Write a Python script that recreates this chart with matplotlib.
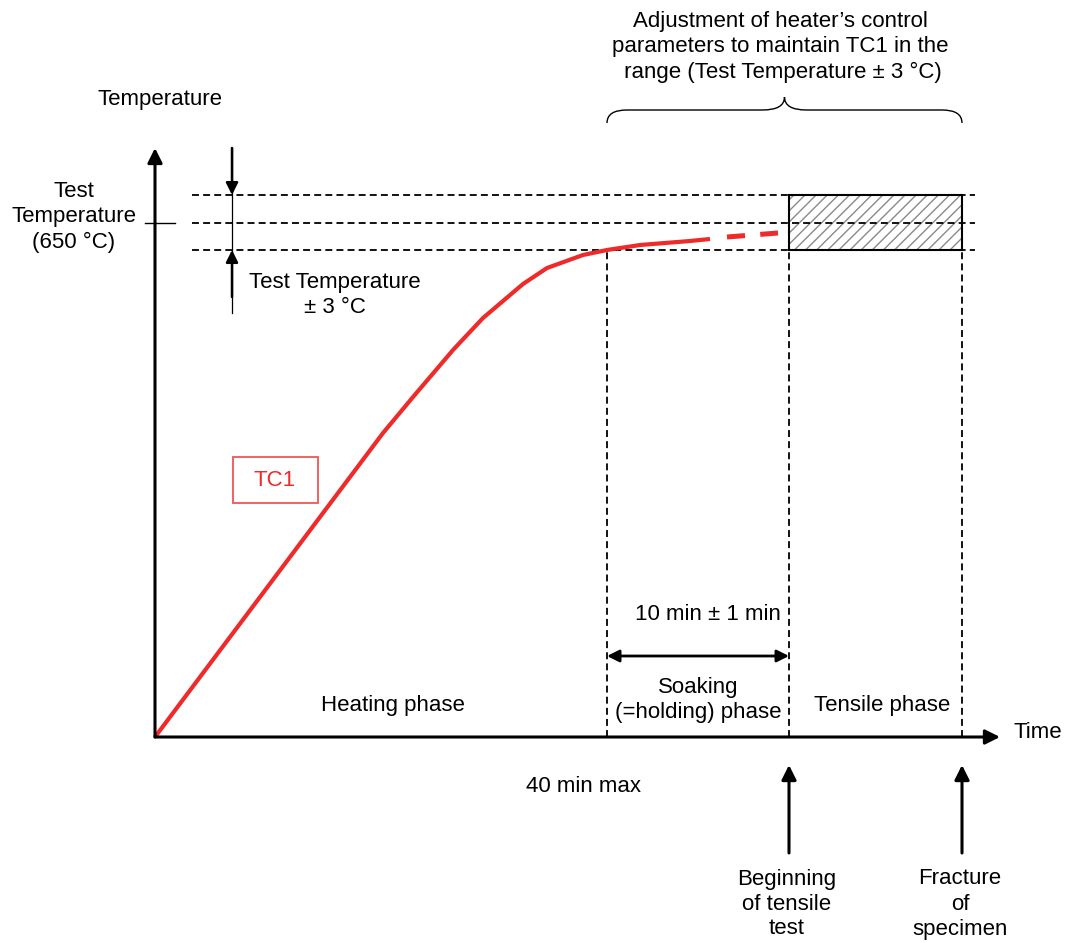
import matplotlib
matplotlib.use("Agg")
import matplotlib.pyplot as plt
from matplotlib.patches import Rectangle, PathPatch
from matplotlib.path import Path

plt.rcParams['font.family'] = ['Liberation Sans', 'DejaVu Sans']
plt.rcParams['lines.scale_dashes'] = False
plt.rcParams['hatch.linewidth'] = 1.0

# schematic units: origin at the axes crossing, y up
# TC1 heating curve (solid part) and its dashed continuation
curve_t = [0, 228, 258, 298, 328, 368, 392, 428, 452, 485, 535, 555]
curve_T = [0, 304, 340, 387, 419, 453, 469, 482, 487, 492, 496, 498]
cont_t = [572, 623]
cont_T = [500, 504]

# test temperature band: lower limit, set point, upper limit
band = [487, 514, 542]
# phase boundaries: start, end of heating, beginning of tensile test, fracture
phases = [0, 452, 634, 807]
axis_end_t = 845
axis_end_T = 589

fig = plt.figure(figsize=(10.68, 9.43), dpi=100)
ax = fig.add_axes([0, 0, 1, 1])
ax.set_xlim(-155, 913)
ax.set_ylim(-206, 737)
ax.axis('off')

fs = 16
arrow = dict(arrowstyle='-|>', lw=2.2, color='black', mutation_scale=22,
             shrinkA=0, shrinkB=0)

# axes
ax.annotate('', xy=(0, axis_end_T), xytext=(0, 0), arrowprops=arrow)
ax.annotate('', xy=(axis_end_t, 0), xytext=(0, 0), arrowprops=arrow)
ax.text(5, 637, 'Temperature', fontsize=fs, ha='center', va='center')
ax.text(858, 4, 'Time', fontsize=fs, ha='left', va='center')

# test temperature band
for lv in band:
    ax.plot([37, 820], [lv, lv], color='black', lw=1.3, ls=(0, (5, 3)))
ax.plot([-10, 20], [band[1], band[1]], color='black', lw=1.0)
ax.text(-81, 520, 'Test\nTemperature\n(650 °C)', fontsize=fs, ha='center',
        va='center', linespacing=1.25)

# +-3 arrows
ax.plot([77, 77], [424, 589], color='black', lw=0.9)
ax.annotate('', xy=(77, band[2]), xytext=(77, 589),
            arrowprops=dict(arrow, lw=1.8, mutation_scale=18))
ax.annotate('', xy=(77, band[0]), xytext=(77, 440),
            arrowprops=dict(arrow, lw=1.8, mutation_scale=18))
ax.text(180, 442, 'Test Temperature\n± 3 °C', fontsize=fs, ha='center',
        va='center', linespacing=1.25)

# phase boundaries
for p in phases[1:]:
    ax.plot([p, p], [0, band[0]], color='black', lw=1.3, ls=(0, (5, 3)))

# hatched tensile window
ax.add_patch(Rectangle((phases[2], band[0]), phases[3] - phases[2],
                       band[2] - band[0], fill=False, hatch='///',
                       edgecolor='#8a8a8a', lw=0))
ax.add_patch(Rectangle((phases[2], band[0]), phases[3] - phases[2],
                       band[2] - band[0], fill=False, edgecolor='black', lw=1.5))

# TC1 curve
red = '#ee2a2a'
ax.plot(curve_t, curve_T, color=red, lw=3.0, solid_capstyle='butt')
ax.plot(cont_t, cont_T, color=red, lw=3.6, ls=(0, (13, 11)))
ax.add_patch(Rectangle((78, 234), 85, 46, fill=False, edgecolor='#f05555', lw=1.3))
ax.text(120, 257, 'TC1', fontsize=fs, color=red, ha='center', va='center')

# brace over soaking + tensile phase
x0, x1 = phases[1], phases[3]
xm = (x0 + x1) / 2
yb, yf, yt = 614, 627, 640
verts = [(x0, yb), (x0, yf), (x0 + 20, yf),
         (xm - 22, yf),
         (xm, yf), (xm, yt),
         (xm, yf), (xm + 22, yf),
         (x1 - 20, yf),
         (x1, yf), (x1, yb)]
codes = [Path.MOVETO, Path.CURVE3, Path.CURVE3,
         Path.LINETO,
         Path.CURVE3, Path.CURVE3,
         Path.CURVE3, Path.CURVE3,
         Path.LINETO,
         Path.CURVE3, Path.CURVE3]
ax.add_patch(PathPatch(Path(verts, codes), fill=False, lw=1.0, color='black'))
ax.text(625, 690, "Adjustment of heater’s control\nparameters to maintain TC1 in the\n"
        " range (Test Temperature ± 3 °C)", fontsize=fs, ha='center', va='center',
        linespacing=1.25)

# soaking duration
ax.annotate('', xy=(phases[1], 81), xytext=(phases[2], 81),
            arrowprops=dict(arrowstyle='<|-|>', lw=2.0, color='black',
                            mutation_scale=18, shrinkA=0, shrinkB=0))
ax.text(553, 122, '10 min ± 1 min', fontsize=fs, ha='center', va='center')

# phase labels
ax.text(238, 31, 'Heating phase', fontsize=fs, ha='center', va='center')
ax.text(543, 37, 'Soaking\n(=holding) phase', fontsize=fs, ha='center',
        va='center', linespacing=1.25)
ax.text(727, 31, 'Tensile phase', fontsize=fs, ha='center', va='center')
ax.text(429, -50, '40 min max', fontsize=fs, ha='center', va='center')

# events
for p, lab in [(phases[2], 'Beginning\nof tensile\ntest'),
               (phases[3], 'Fracture\nof\nspecimen')]:
    ax.annotate('', xy=(p, -28), xytext=(p, -116), arrowprops=arrow)
    ax.text(p - 2, -167, lab, fontsize=fs, ha='center', va='center',
            linespacing=1.25)

fig.savefig('out.png', dpi=100)
